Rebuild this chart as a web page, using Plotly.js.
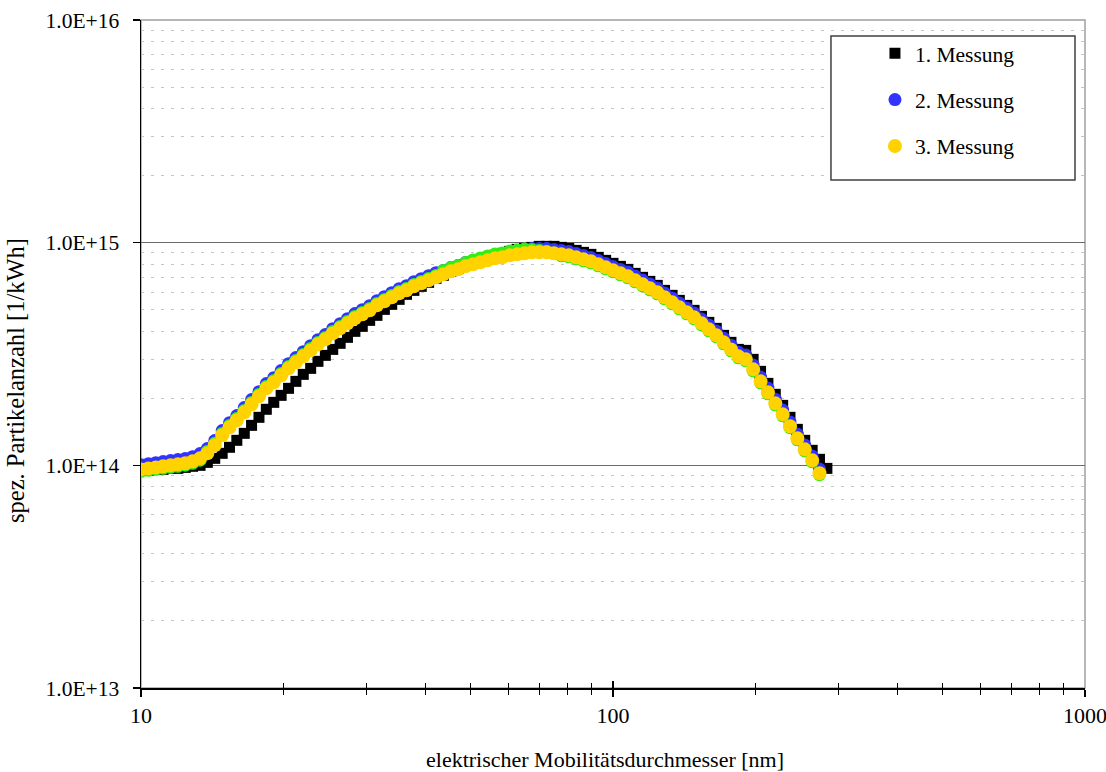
<!DOCTYPE html>
<html>
<head>
<meta charset="utf-8">
<script src="https://cdn.plot.ly/plotly-3.0.1.min.js"></script>
<style>
html,body{margin:0;padding:0;background:#fff;}
#chart{width:1106px;height:772px;}
</style>
</head>
<body>
<div id="chart"></div>
<script>
// electrical mobility diameter [nm] (SMPS channels)
const diameter_nm = [10.00,10.37,10.75,11.14,11.55,11.97,12.41,12.86,13.34,13.82,14.33,14.86,15.40,15.96,16.55,17.15,17.78,18.43,19.11,19.81,20.54,21.29,22.07,22.88,23.71,24.58,25.48,26.42,27.38,28.39,29.43,30.51,31.62,32.78,33.98,35.23,36.52,37.86,39.24,40.68,42.17,43.71,45.32,46.98,48.70,50.48,52.33,54.25,56.23,58.29,60.43,62.64,64.94,67.32,69.78,72.34,74.99,77.74,80.58,83.54,86.60,89.77,93.06,96.47,100.0,103.7,107.5,111.4,115.5,119.7,124.1,128.6,133.4,138.2,143.3,148.5,154.0,159.6,165.5,171.5,177.8,184.3,191.1,198.1,205.4,212.9,220.7,228.8,237.1,245.8,254.8,264.2,273.8,283.9];

// 1. Messung [1/kWh]
const messung1 = [0.950e14,0.950e14,0.959e14,0.959e14,0.969e14,0.969e14,0.979e14,0.990e14,1.000e14,1.031e14,1.075e14,1.132e14,1.205e14,1.295e14,1.392e14,1.512e14,1.643e14,1.785e14,1.918e14,2.062e14,2.217e14,2.383e14,2.562e14,2.726e14,2.931e14,3.118e14,3.317e14,3.531e14,3.757e14,3.997e14,4.209e14,4.478e14,4.716e14,5.017e14,5.284e14,5.564e14,5.860e14,6.106e14,6.365e14,6.633e14,6.915e14,7.132e14,7.433e14,7.667e14,7.909e14,8.158e14,8.328e14,8.590e14,8.770e14,8.953e14,9.140e14,9.331e14,9.427e14,9.525e14,9.625e14,9.625e14,9.625e14,9.525e14,9.427e14,9.235e14,9.046e14,8.861e14,8.590e14,8.328e14,8.074e14,7.827e14,7.588e14,7.280e14,6.986e14,6.702e14,6.431e14,6.106e14,5.800e14,5.507e14,5.229e14,4.966e14,4.668e14,4.386e14,4.123e14,3.834e14,3.567e14,3.317e14,3.283e14,2.992e14,2.643e14,2.334e14,2.084e14,1.859e14,1.643e14,1.451e14,1.295e14,1.168e14,1.064e14,0.969e14];

// 2. Messung [1/kWh]
const messung2 = [1.007e14,1.017e14,1.028e14,1.040e14,1.050e14,1.061e14,1.072e14,1.094e14,1.129e14,1.189e14,1.292e14,1.432e14,1.555e14,1.673e14,1.817e14,1.973e14,2.143e14,2.328e14,2.476e14,2.663e14,2.862e14,3.046e14,3.240e14,3.447e14,3.669e14,3.864e14,4.110e14,4.329e14,4.558e14,4.801e14,5.002e14,5.214e14,5.490e14,5.723e14,5.965e14,6.216e14,6.411e14,6.683e14,6.893e14,7.111e14,7.335e14,7.494e14,7.730e14,7.892e14,8.140e14,8.311e14,8.484e14,8.661e14,8.841e14,8.934e14,9.121e14,9.215e14,9.311e14,9.408e14,9.408e14,9.408e14,9.311e14,9.215e14,9.121e14,8.934e14,8.751e14,8.572e14,8.311e14,8.057e14,7.810e14,7.571e14,7.376e14,7.077e14,6.789e14,6.515e14,6.250e14,5.937e14,5.637e14,5.352e14,5.083e14,4.827e14,4.536e14,4.264e14,4.007e14,3.728e14,3.466e14,3.225e14,3.127e14,2.819e14,2.490e14,2.223e14,1.983e14,1.770e14,1.564e14,1.381e14,1.233e14,1.100e14,0.962e14];

// hidden additional series (green, no legend entry)
const messungX = [0.940e14,0.950e14,0.959e14,0.970e14,0.980e14,0.990e14,1.001e14,1.021e14,1.054e14,1.155e14,1.255e14,1.391e14,1.511e14,1.625e14,1.765e14,1.917e14,2.082e14,2.261e14,2.405e14,2.587e14,2.781e14,2.959e14,3.148e14,3.349e14,3.564e14,3.754e14,3.992e14,4.205e14,4.428e14,4.663e14,4.859e14,5.065e14,5.334e14,5.559e14,5.795e14,6.038e14,6.228e14,6.492e14,6.696e14,6.907e14,7.126e14,7.494e14,7.730e14,7.892e14,8.140e14,8.351e14,8.525e14,8.703e14,8.884e14,8.977e14,9.165e14,9.260e14,9.356e14,9.317e14,9.227e14,9.136e14,8.953e14,8.728e14,8.638e14,8.461e14,8.288e14,8.118e14,7.871e14,7.631e14,7.397e14,7.171e14,6.952e14,6.670e14,6.400e14,6.140e14,5.891e14,5.596e14,5.313e14,5.045e14,4.791e14,4.550e14,4.276e14,4.019e14,3.776e14,3.513e14,3.267e14,3.040e14,2.947e14,2.658e14,2.347e14,2.095e14,1.870e14,1.669e14,1.475e14,1.302e14,1.162e14,1.037e14,0.907e14];

// 3. Messung [1/kWh]
const messung3 = [0.959e14,0.969e14,0.979e14,0.990e14,1.000e14,1.010e14,1.021e14,1.042e14,1.075e14,1.132e14,1.230e14,1.364e14,1.481e14,1.593e14,1.730e14,1.879e14,2.041e14,2.217e14,2.358e14,2.536e14,2.726e14,2.901e14,3.086e14,3.283e14,3.494e14,3.680e14,3.914e14,4.123e14,4.341e14,4.572e14,4.764e14,4.966e14,5.229e14,5.450e14,5.681e14,5.920e14,6.106e14,6.365e14,6.565e14,6.772e14,6.986e14,7.206e14,7.433e14,7.588e14,7.827e14,7.991e14,8.158e14,8.328e14,8.501e14,8.590e14,8.770e14,8.861e14,8.953e14,9.046e14,9.046e14,9.046e14,8.953e14,8.861e14,8.770e14,8.590e14,8.414e14,8.242e14,7.991e14,7.747e14,7.510e14,7.280e14,7.058e14,6.772e14,6.497e14,6.234e14,5.981e14,5.681e14,5.394e14,5.122e14,4.864e14,4.619e14,4.341e14,4.080e14,3.834e14,3.567e14,3.317e14,3.086e14,2.992e14,2.698e14,2.383e14,2.127e14,1.898e14,1.694e14,1.497e14,1.322e14,1.180e14,1.053e14,0.921e14];

const seriesNames = ["1. Messung","2. Messung","3. Messung"];
const xTickVals = [10, 100, 1000];
const xTickText = ["10", "100", "1000"];
const yTickVals = [1e13, 1e14, 1e15, 1e16];
const yTickText = ["1.0E+13", "1.0E+14", "1.0E+15", "1.0E+16"];
const xTitle = "elektrischer Mobilitätsdurchmesser [nm]";
const yTitle = "spez. Partikelanzahl [1/kWh]";

const FONT = "Liberation Serif, Times New Roman, serif";

function mk(y, name, color, symbol, size, showleg, group) {
  return {
    type: "scatter", mode: "markers",
    x: diameter_nm.slice(0, y.length), y: y,
    name: name, showlegend: showleg, legendgroup: group,
    marker: {color: color, symbol: symbol, size: size, line: {width: 0}},
    hoverinfo: "x+y+name"
  };
}

const traces = [
  mk(messung1, seriesNames[0], "#000000", "square", 11, true, "g1"),
  mk(messung2, seriesNames[1], "#3333ff", "circle", 13, true, "g2"),
  mk(messungX, "", "#33ee11", "circle", 13, false, "g4"),
  mk(messung3, seriesNames[2], "#ffd200", "circle", 14, true, "g3"),
  // empty helper trace so the tick-only overlay axis (inner tick halves) is drawn
  {type: "scatter", mode: "markers", x: [], y: [], xaxis: "x2", yaxis: "y", showlegend: false, hoverinfo: "skip"}
];

// minor ticks / grid positions
const xMinor = [];
for (let d = 10; d < 1000; d *= 10) for (let k = 2; k <= 9; k++) xMinor.push(k * d);
const yMinor = [];
for (let d = 1e13; d < 1e16; d *= 10) for (let k = 2; k <= 9; k++) yMinor.push(k * d);

const layout = {
  width: 1106, height: 772,
  margin: {l: 141, r: 21, t: 20, b: 84},
  paper_bgcolor: "#ffffff", plot_bgcolor: "#ffffff",
  font: {family: FONT, size: 22, color: "#000"},
  showlegend: true,
  legend: {
    x: 0.7775, y: 0.981, xanchor: "left", yanchor: "top",
    bgcolor: "rgba(0,0,0,0)", borderwidth: 0,
    font: {family: FONT, size: 21.5, color: "#000"},
    traceorder: "grouped", tracegroupgap: 15.5
  },
  xaxis: {
    type: "log", range: [1, 3],
    showline: true, linecolor: "#000", linewidth: 1.5,
    showgrid: false, zeroline: false,
    tickmode: "array", tickvals: xTickVals, ticktext: xTickText,
    ticks: "outside", ticklen: 7, tickwidth: 1.5, tickcolor: "#000",
    tickfont: {family: FONT, size: 22},
    ticklabeloverflow: "allow",
    minor: {tickmode: "array", tickvals: xMinor, ticks: "outside", ticklen: 5, tickwidth: 1, tickcolor: "#000", showgrid: false},
    automargin: false
  },
  xaxis2: {
    type: "log", range: [1, 3], overlaying: "x", anchor: "y", side: "bottom",
    showline: false, showgrid: false, zeroline: false, showticklabels: false,
    tickmode: "array", tickvals: xTickVals,
    ticks: "inside", ticklen: 7, tickwidth: 1.5, tickcolor: "#000",
    minor: {tickmode: "array", tickvals: xMinor, ticks: "inside", ticklen: 5, tickwidth: 1, tickcolor: "#000", showgrid: false}
  },
  yaxis: {
    type: "log", range: [13, 16],
    showline: true, linecolor: "#000", linewidth: 1.5,
    showgrid: true, gridcolor: "#6a6a6a", gridwidth: 1.5, zeroline: false,
    tickmode: "array", tickvals: yTickVals, ticktext: yTickText,
    ticks: "outside", ticklen: 7, tickwidth: 1.5, tickcolor: "#000",
    ticklabelstandoff: 9,
    tickfont: {family: FONT, size: 21.5},
    minor: {tickmode: "array", tickvals: yMinor, ticks: "", showgrid: true, gridcolor: "#c4c4c4", gridwidth: 1, griddash: "3px,7px"},
    automargin: false
  },
  annotations: [
    {text: xTitle, xref: "paper", yref: "paper", x: 0.492, y: -0.107, xanchor: "center", yanchor: "middle",
     showarrow: false, font: {family: FONT, size: 22, color: "#000"}},
    {text: yTitle, xref: "paper", yref: "paper", x: -0.1335, y: 0.461, xanchor: "center", yanchor: "middle",
     textangle: -90, showarrow: false, font: {family: FONT, size: 24.5, color: "#000"}}
  ],
  shapes: [
    {type: "rect", xref: "paper", yref: "paper", x0: 0, x1: 1, y0: 0, y1: 1,
     line: {color: "#a0a0a0", width: 1.5}, layer: "below"},
    {type: "rect", xref: "paper", yref: "paper", x0: 0.7309, x1: 0.9894, y0: 0.7605, y1: 0.976,
     line: {color: "#404040", width: 1.5}, fillcolor: "#ffffff", layer: "above"}
  ]
};

Plotly.newPlot("chart", traces, layout, {displayModeBar: false, staticPlot: true});
</script>
</body>
</html>
